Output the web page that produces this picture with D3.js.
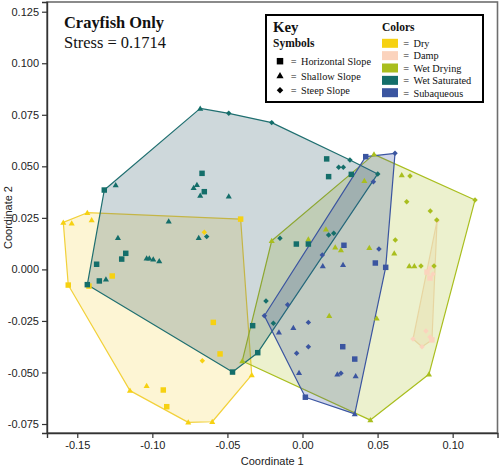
<!DOCTYPE html>
<html><head><meta charset="utf-8">
<script src="https://cdn.jsdelivr.net/npm/d3@7"></script>
<style>body{margin:0;background:#fff}svg{display:block}</style>
</head><body><svg id="c" width="500" height="469"></svg>
<script>
// ---------- DATA ----------
const colorCategories = ["Dry","Damp","Wet Drying","Wet Saturated","Subaqueous"];
const symbolCategories = ["Horizontal Slope","Shallow Slope","Steep Slope"]; // codes H, S, T
const symbolCodes = ["H","S","T"];
const xTicks = [-0.15,-0.10,-0.05,0,0.05,0.10];
const xTickLabels = ["-0.15","-0.10","-0.05","0.00","0.05","0.10"];
const yTicks = [-0.075,-0.05,-0.025,0,0.025,0.05,0.075,0.1,0.125];
const yTickLabels = ["-0.075","-0.050","-0.025","0.000","0.025","0.050","0.075","0.100","0.125"];
const titleText = "Crayfish Only";
const stressText = "Stress = 0.1714";

const dryPts = [
 [-0.1593,0.0228,"S"],[-0.1537,0.0224,"S"],[-0.1433,0.0275,"S"],[-0.1404,0.0240,"S"],
 [-0.1149,-0.0588,"S"],[-0.1038,-0.0564,"S"],[-0.0761,-0.0742,"S"],[-0.0601,-0.0739,"S"],[-0.0338,-0.0512,"S"],
 [-0.0412,0.0244,"H"],[-0.1560,-0.0076,"H"],[-0.1267,-0.0032,"H"],[-0.1422,-0.0081,"H"],
 [-0.0594,-0.0257,"H"],[-0.0549,-0.0410,"H"],[-0.0927,-0.0585,"H"],[-0.0904,-0.0666,"H"],
 [-0.0654,0.0180,"T"],[-0.0667,-0.0443,"T"]
];
const dampPts = [
 [0.0896,0.0235,"T"],[0.0849,0.0007,"T"],[0.0829,-0.0013,"H"],[0.0869,-0.0022,"T"],[0.0849,-0.0042,"H"],
 [0.0822,-0.0299,"T"],[0.0849,-0.0328,"T"],[0.0862,-0.0342,"H"],[0.0796,-0.0375,"T"],[0.0736,-0.0338,"T"]
];
const wetDryingPts = [
 [0.0476,0.0558,"S"],[0.0412,0.0430,"S"],[0.0156,0.0195,"S"],[0.0039,0.0146,"S"],[0.0218,0.0107,"S"],
 [0.0256,0.0094,"S"],[0.0445,0.0105,"S"],[0.0178,-0.0225,"S"],[-0.0401,-0.0444,"S"],[-0.0205,0.0139,"S"],
 [0.0661,0.0458,"S"],[0.0611,0.0078,"S"],[0.0711,0.0016,"S"],[0.0745,0.0016,"S"],[0.0494,-0.0237,"S"],
 [0.0842,-0.0509,"S"],[0.0452,-0.0731,"S"],
 [0.1149,0.0337,"T"],[0.0716,0.0453,"T"],[0.0694,0.0328,"T"],[0.0851,0.0283,"T"],[0.0894,0.0240,"T"],
 [0.0618,0.0143,"T"],[0.0789,0.0016,"T"],[0.0876,0.0016,"T"]
];
const wetSaturatedPts = [
 [-0.1320,0.0385,"H"],[-0.0669,0.0466,"H"],[-0.0654,0.0377,"H"],[-0.1177,0.0078,"H"],[-0.1204,0.0050,"H"],
 [-0.1371,0.0025,"H"],[-0.1353,-0.0056,"H"],[-0.1433,-0.0074,"H"],[0.0161,0.0536,"H"],[0.0174,0.0450,"H"],
 [0.0325,0.0461,"H"],[-0.0041,0.0123,"H"],[0.0039,0.0123,"H"],[-0.0298,-0.0404,"H"],[-0.0466,-0.0498,"H"],
 [-0.0332,-0.0273,"H"],
 [-0.1244,0.0409,"S"],[-0.0681,0.0781,"S"],[-0.0703,0.0411,"S"],[-0.0725,0.0396,"S"],[-0.0681,0.0359,"S"],
 [-0.0491,0.0355,"S"],[-0.0891,0.0233,"S"],[-0.1229,0.0154,"S"],[-0.0691,0.0154,"S"],[-0.1038,0.0054,"S"],
 [-0.1020,0.0054,"S"],[-0.0994,0.0049,"S"],[-0.0954,0.0041,"S"],[-0.1309,-0.0048,"S"],
 [-0.0491,0.0757,"T"],[-0.0205,0.0712,"T"],[0.0316,0.0531,"T"],[0.0501,0.0463,"T"],[0.0241,0.0495,"T"],
 [0.0272,0.0495,"T"],[-0.0638,0.0159,"T"],[-0.0150,0.0151,"T"],[0.0174,0.0167,"T"],[0.0208,0.0175,"T"],
 [-0.0243,-0.0153,"T"],[-0.0194,-0.0261,"T"]
];
const subaqueousPts = [
 [0.0421,0.0547,"H"],[0.0276,0.0117,"H"],[0.0485,0.0031,"H"],[0.0554,0.0010,"H"],[0.0019,-0.0620,"H"],
 [0.0268,-0.0375,"H"],[0.0348,-0.0435,"H"],
 [0.0616,0.0563,"T"],[0.0472,0.0425,"T"],[0.0509,0.0099,"T"],[0.0132,0.0070,"T"],[-0.0099,-0.0171,"T"],
 [-0.0254,-0.0225,"T"],[0.0039,-0.0257,"T"],[0.0039,-0.0375,"T"],[-0.0039,-0.0407,"T"],[0.0256,-0.0504,"T"],
 [0.0135,0.0016,"S"],[0.0270,0.0023,"S"],[-0.0157,-0.0305,"S"],[-0.0061,-0.0283,"S"],[-0.0023,-0.0501,"S"],
 [0.0232,-0.0509,"S"],[0.0354,-0.0517,"S"],[0.0348,-0.0701,"S"]
];
const groupData = [dryPts, dampPts, wetDryingPts, wetSaturatedPts, subaqueousPts];

// ---------- STYLE ----------
const markerColors = ["#f6d112","#fbd3bd","#a9be1e","#146e6a","#3b55a0"];
const strokeColors = ["#f2d13a","#f9dcc6","#a9be1e","#1f6f70","#3b55a0"];
const fillColors   = ["#f7cf2a","#f8cba8","#a8bd22","#3a6470","#3b55a0"];
const fillOpacity  = [0.2,0.22,0.22,0.25,0.24];

const m = {l:47, r:497.5, t:2, b:433};
const svg = d3.select("#c");
const x = d3.scaleLinear().domain([-0.17015,0.12986]).range([m.l,m.r]);
const y = d3.scaleLinear().domain([-0.07936,0.12971]).range([m.b,m.t]);

// hulls
const hullG = svg.append("g");
groupData.forEach((pts,i)=>{
  const hull = d3.polygonHull(pts.map(d=>[x(d[0]),y(d[1])]));
  hullG.append("path")
    .attr("d","M"+hull.map(p=>p.join(",")).join("L")+"Z")
    .attr("fill",fillColors[i]).attr("fill-opacity",fillOpacity[i])
    .attr("stroke",strokeColors[i]).attr("stroke-width",1.2).attr("stroke-linejoin","round");
});

const symType = {H:d3.symbolSquare, S:d3.symbolTriangle, T:d3.symbolSquare};
const symSize = {H:30, S:16, T:15};
function symPath(code, scale){ return d3.symbol(symType[code], symSize[code]*(scale||1))(); }
function symTransform(code,px,py){ return `translate(${px},${py})`+(code==="T"?" rotate(45)":"")+(code==="S"?" translate(0,0.5)":""); }

const ptG = svg.append("g");
groupData.forEach((pts,i)=>{
  ptG.selectAll(null).data(pts).join("path")
    .attr("d",d=>symPath(d[2]))
    .attr("transform",d=>symTransform(d[2],x(d[0]),y(d[1])))
    .attr("fill",markerColors[i]);
});

// frame
svg.append("rect").attr("x",m.l).attr("y",m.t).attr("width",m.r-m.l).attr("height",m.b-m.t)
  .attr("fill","none").attr("stroke","#6e6e6e").attr("stroke-width",1.6);

// axes
const sans = "'Liberation Sans', Arial, sans-serif";
const serif = "'Liberation Serif', 'Times New Roman', serif";
const xAxis = d3.axisBottom(x).tickValues(xTicks).tickFormat((d,i)=>xTickLabels[i]).tickSize(5).tickPadding(3);
const yAxis = d3.axisLeft(y).tickValues(yTicks).tickFormat((d,i)=>yTickLabels[i]).tickSize(5).tickPadding(3);
const gx = svg.append("g").attr("transform",`translate(0,${m.b})`).call(xAxis);
const gy = svg.append("g").attr("transform",`translate(${m.l},0)`).call(yAxis);
[gx,gy].forEach(g=>{
  g.select(".domain").attr("stroke","#333").attr("stroke-width",1.4);
  g.selectAll(".tick line").attr("stroke","#333").attr("stroke-width",1.2);
  g.selectAll(".tick text").attr("font-family",sans).attr("font-size",11).attr("fill","#222");
});
svg.append("text").attr("x",(m.l+m.r)/2).attr("y",465).attr("text-anchor","middle")
  .attr("font-family",sans).attr("font-size",11).attr("fill","#222").text("Coordinate 1");
svg.append("text").attr("transform",`translate(12,${(m.t+m.b)/2}) rotate(-90)`).attr("text-anchor","middle")
  .attr("font-family",sans).attr("font-size",11).attr("fill","#222").text("Coordinate 2");

// fit a text element's font size to a target width
function fit(sel, target){
  const w = sel.node().getComputedTextLength();
  const fs = parseFloat(sel.attr("font-size"));
  if (w>0) sel.attr("font-size", (fs*target/w).toFixed(2));
  return parseFloat(sel.attr("font-size"));
}

// title
const t1 = svg.append("text").attr("x",64).attr("y",28).attr("font-family",serif).attr("font-weight","bold").attr("font-size",17).attr("fill","#111").text(titleText);
fit(t1,100);
const t2 = svg.append("text").attr("x",64).attr("y",48).attr("font-family",serif).attr("font-size",17).attr("fill","#111").text(stressText);
fit(t2,102);

// legend
const lg = svg.append("g");
lg.append("rect").attr("x",266).attr("y",15).attr("width",217).attr("height",87).attr("fill","#fff").attr("stroke","#000").attr("stroke-width",2);
fit(lg.append("text").attr("x",273).attr("y",32).attr("font-family",serif).attr("font-weight","bold").attr("font-size",16).attr("fill","#111").text("Key"),25.5);
fit(lg.append("text").attr("x",273).attr("y",46.5).attr("font-family",serif).attr("font-weight","bold").attr("font-size",12).attr("fill","#111").text("Symbols"),41.5);
fit(lg.append("text").attr("x",382).attr("y",31).attr("font-family",serif).attr("font-weight","bold").attr("font-size",12).attr("fill","#111").text("Colors"),32.5);

const probe = lg.append("text").attr("font-family",serif).attr("font-size",12).text("Horizontal Slope");
const itemFs = fit(probe,70);
probe.remove();

symbolCategories.forEach((s,i)=>{
  const by = 65 + i*14.5;
  lg.append("path").attr("d",symPath(symbolCodes[i],1.4)).attr("transform",symTransform(symbolCodes[i],280,by-3.8)).attr("fill","#000");
  lg.append("text").attr("x",290.7).attr("y",by).attr("font-family",serif).attr("font-size",itemFs).attr("fill","#111").text("=");
  lg.append("text").attr("x",301).attr("y",by).attr("font-family",serif).attr("font-size",itemFs).attr("fill","#111").text(s);
});
colorCategories.forEach((c,i)=>{
  const cy = 43.3 + i*12.35;
  lg.append("rect").attr("x",382).attr("y",cy-4.5).attr("width",16).attr("height",9).attr("fill",markerColors[i]);
  lg.append("text").attr("x",403.3).attr("y",cy+3.8).attr("font-family",serif).attr("font-size",itemFs).attr("fill","#111").text("=");
  lg.append("text").attr("x",413.5).attr("y",cy+3.8).attr("font-family",serif).attr("font-size",itemFs).attr("fill","#111").text(c);
});
</script></body></html>
